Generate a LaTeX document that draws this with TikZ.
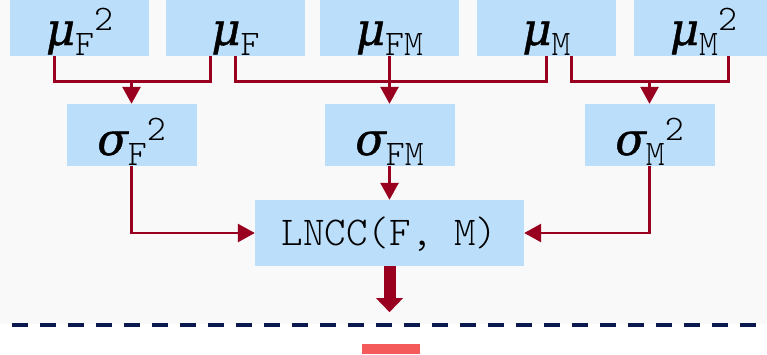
\documentclass[tikz,border=0pt]{standalone}
\usepackage{fontspec}
\setmonofont{Latin Modern Mono Light}
\newfontfamily\greekfont{DejaVu Serif}[ItalicFeatures={FakeBold=0.9}]
\usetikzlibrary{arrows.meta,calc}

\definecolor{boxblue}{HTML}{BBDEFB}
\definecolor{linkred}{HTML}{990020}
\definecolor{navy}{HTML}{0B1A4E}
\definecolor{panelgrey}{HTML}{F9F9F9}
\definecolor{markred}{HTML}{F55A5A}

% greek symbol with mono subscript and superscript
\newcommand{\stat}[3]{{\fontsize{45}{45}\greekfont\itshape #1}%
  \raisebox{-10pt}{\fontsize{36}{36}\ttfamily #2}%
  \raisebox{15pt}{\fontsize{36}{36}\ttfamily #3}}

\tikzset{
  cell/.style={fill=boxblue, minimum width=139pt, minimum height=62pt,
    inner sep=0pt, text height=40pt, text depth=0pt},
  link/.style={draw=linkred, line width=2.8pt},
  arr/.style={link, -{Triangle[length=17pt,width=18pt]}},
  fat/.style={draw=linkred, line width=12pt, -{Triangle[length=14pt,width=26pt]}},
}

\begin{document}
\begin{tikzpicture}[x=1pt, y=1pt]
  \useasboundingbox (0,0) rectangle (767,-354);
  \clip (0,0) rectangle (767,-354);
  \fill[white] (0,0) rectangle (767,-354);
  \fill[panelgrey] (0,0) rectangle (767,-324);

  % local means
  \node[cell] (muFsq) at (79.5,-25) {\stat{μ}{F}{2}};
  \node[cell] (muF) at (235.5,-25) {\stat{μ}{F}{}};
  \node[cell] (muFM) at (389.5,-25) {\stat{μ}{FM}{}};
  \node[cell] (muM) at (546.5,-25) {\stat{μ}{M}{}};
  \node[cell] (muMsq) at (703.5,-25) {\stat{μ}{M}{2}};

  % variances and covariance
  \node[cell, minimum width=130pt] (sigFsq) at (131.5,-135) {\stat{σ}{F}{2}};
  \node[cell, minimum width=130pt] (sigFM) at (389.5,-135) {\stat{σ}{FM}{}};
  \node[cell, minimum width=130pt] (sigMsq) at (649.5,-135) {\stat{σ}{M}{2}};

  \node[cell, minimum width=269pt, minimum height=66pt, text height=24pt,
    font=\fontsize{41}{41}\selectfont\ttfamily] (lncc) at (389.5,-233) {LNCC(F, M)};

  \draw[link] ([xshift=-25pt]muFsq.south) -- ++(0,-25) -| ([xshift=-25pt]muF.south);
  \draw[arr] ([yshift=23pt]sigFsq.north) -- (sigFsq.north);
  \draw[link] (muF.south) -- ++(0,-25) -| (muM.south);
  \draw[arr] (muFM.south) -- (sigFM.north);
  \draw[link] ([xshift=25pt]muM.south) -- ++(0,-25) -| ([xshift=25pt]muMsq.south);
  \draw[arr] ([yshift=23pt]sigMsq.north) -- (sigMsq.north);

  \draw[arr] (sigFsq.south) |- (lncc.west);
  \draw[arr] (sigFM.south) -- (lncc.north);
  \draw[arr] (sigMsq.south) |- (lncc.east);
  \draw[fat] (lncc.south) -- ++(0,-46);

  % separator
  \draw[navy, line width=3.5pt, dash pattern=on 16pt off 12pt, dash phase=16.3pt]
    (0,-325) -- (767,-325);
  \fill[markred] (362,-344) rectangle (420,-354);
\end{tikzpicture}
\end{document}
